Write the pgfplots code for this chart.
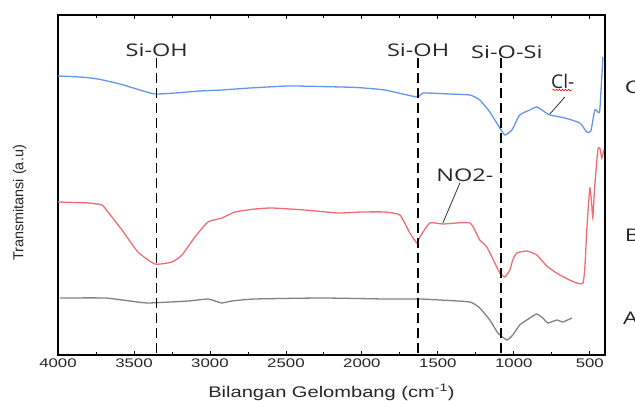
\documentclass[border=0pt]{standalone}
\usepackage{fontspec}
\setmainfont{Liberation Sans}
\newfontfamily\annfont{Open Sans}
\usepackage{pgfplots}
\pgfplotsset{compat=1.18}
\usetikzlibrary{decorations.pathmorphing}

\definecolor{specC}{RGB}{100,150,235}
\definecolor{specB}{RGB}{240,110,115}
\definecolor{specA}{RGB}{130,130,130}

\begin{document}
\begin{tikzpicture}[ann/.style={font=\annfont\fontsize{17.5}{20}\selectfont, text=black!85, xscale=1.35}]
\begin{axis}[
  name=ax,
  width=547bp, height=340bp, scale only axis,
  x dir=reverse, xmin=400, xmax=4000, ymin=0, ymax=340,
  xtick={500,1000,...,4000}, minor x tick num=1,
  ytick=\empty,
  tick align=inside, major tick length=4bp, minor tick length=3bp,
  tick style={black, line width=0.8bp},
  axis line style={black, line width=2.6bp},
  /pgf/number format/assume math mode=true,
  /pgf/number format/1000 sep={},
  ticklabel style={font=\fontsize{12.5}{14}\selectfont, text=black!85, xscale=1.35},
  xlabel={Bilangan Gelombang (cm\textsuperscript{-1})},
  xlabel style={font=\fontsize{15.5}{18}\selectfont, text=black!85, xscale=1.3,
    at={(axis description cs:0.5,-0.11)}, anchor=center},
  ylabel={Transmitansi (a.u)},
  ylabel style={font=\fontsize{14.5}{17}\selectfont, text=black!85,
    at={(axis description cs:-0.07,0.447)}, anchor=center},
  clip=false,
]
% spectrum C
\addplot[specC, line width=1.3bp, smooth, tension=0.3] coordinates {
(4000,279) (3855,278) (3737,276) (3592,271) (3461,265) (3362,261) (3230,262)
(3066,264) (2921,265) (2737,267) (2487,269) (2276,268.5) (2033,267.5) (1849,265)
(1638,258) (1599,262) (1421,261) (1289,260) (1224,255) (1158,243) (1092,227)
(1059,220) (1013,225) (961,240) (895,245) (849,248) (796,243) (763,240)
(664,237) (566,232) (520,223) (493,224) (467,245) (447,243) (434,245) (414,298)
};
% spectrum B
\addplot[specB, line width=1.3bp, smooth, tension=0.3] coordinates {
(4000,153) (3803,152) (3711,150) (3671,143) (3579,125) (3474,103) (3362,91)
(3250,93) (3184,100) (3099,118) (3013,133) (2921,137) (2836,143) (2704,146)
(2592,147) (2375,145) (2158,142) (2000,143) (1849,143) (1750,140) (1684,122)
(1638,112) (1618,118) (1553,132) (1467,131) (1289,132) (1224,115) (1178,108)
(1112,88) (1092,82) (1059,78) (1026,85) (1007,95) (980,102) (914,104)
(849,100) (783,89) (697,80) (546,72) (520,125) (500,167) (487,150) (480,137)
(467,170) (447,205) (434,207) (421,197) (408,205)
};
% spectrum A
\addplot[specA, line width=1.3bp, smooth, tension=0.3] coordinates {
(3987,57) (3691,57) (3526,54) (3408,52) (3145,54) (3013,56) (2967,54)
(2921,52) (2855,54) (2704,56) (2263,57) (1849,56) (1618,56) (1487,55)
(1289,53) (1224,47) (1158,35) (1105,22) (1046,15) (1007,20) (961,30)
(895,37) (849,41) (809,37) (776,32) (717,35) (678,33) (618,37)
};
% band markers
\addplot[black, line width=1.4bp, dash pattern=on 10bp off 5bp] coordinates {(3350,297) (3350,0)};
\addplot[black, line width=1.4bp, dash pattern=on 10bp off 5bp] coordinates {(1630,297) (1630,0)};
\addplot[black, line width=1.4bp, dash pattern=on 10bp off 5bp] coordinates {(1085,297) (1085,0)};

\node[ann] at (axis cs:3350,305) {Si-OH};
\node[ann] at (axis cs:1630,305) {Si-OH};
\node[ann] at (axis cs:1046,303) {Si-O-Si};
\node[ann, font=\annfont\fontsize{19}{21}\selectfont, xscale=0.75] at (axis cs:678,274) {Cl-};
\draw[red, line width=0.6bp, decorate, decoration={snake, amplitude=0.8bp, segment length=3bp}]
  (axis cs:745,265) -- (axis cs:620,265);
\draw[black!80, line width=0.8bp] (axis cs:664,258) -- (axis cs:763,241);
\node[ann] at (axis cs:1322,180) {NO2-};
\draw[black!80, line width=0.8bp] (axis cs:1355,172) -- (axis cs:1467,132);

\node[ann, anchor=west] at (axis cs:300,268) {C};
\node[ann, anchor=west] at (axis cs:300,120) {B};
\node[ann, anchor=west] at (axis cs:312,37) {A};

\coordinate (sw) at (rel axis cs:0,0);
\coordinate (ne) at (rel axis cs:1,1);
\end{axis}
\pgfresetboundingbox
\path ([xshift=-58bp,yshift=-46bp]sw) rectangle ([xshift=30bp,yshift=15bp]ne);
\end{tikzpicture}
\end{document}
